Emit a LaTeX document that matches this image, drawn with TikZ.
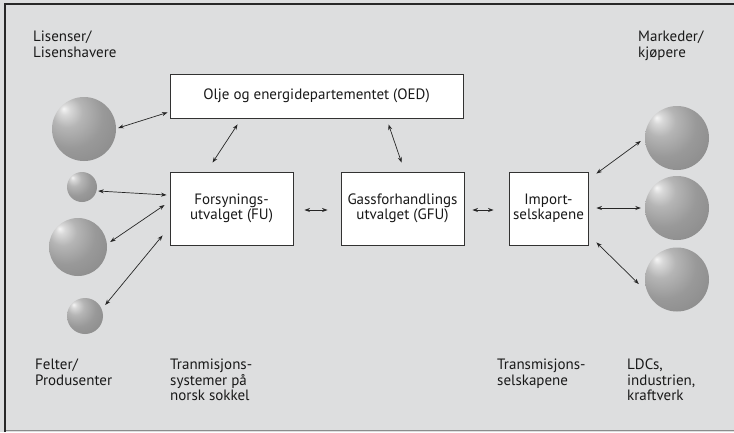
\documentclass[tikz,border=0pt]{standalone}
\usepackage{fontspec}
\setmainfont{PT Sans}
\usetikzlibrary{arrows.meta,calc}
\definecolor{bgc}{RGB}{221,222,223}
\definecolor{framec}{RGB}{40,40,40}
\definecolor{boxc}{RGB}{50,50,50}
\pgfdeclareradialshading{sph}{\pgfpoint{-16bp}{16bp}}{color(0bp)=(gray!8); color(4bp)=(gray!30); color(12bp)=(gray!58); color(25bp)=(gray!80); color(45bp)=(gray!95); color(70bp)=(gray!85!black)}
\begin{document}
\begin{tikzpicture}[x=1pt,y=-1pt,
  every node/.style={font=\fontsize{15}{15.4}\selectfont, text=black!90},
  box/.style={draw=boxc, line width=0.9pt, fill=white, inner sep=0pt, align=center},
  ball/.style={circle, inner sep=0pt, shading=sph, minimum size=#1},
  lbl/.style={anchor=north west, align=left, inner sep=0pt},
  conn/.style={line width=0.7pt, draw=black!85, {Stealth[length=5.5pt,width=4pt]}-{Stealth[length=5.5pt,width=4pt]}}]
\useasboundingbox (0,0) rectangle (734,432);
\fill[bgc] (0,0) rectangle (734,432);
\draw[black!45, line width=0.8pt] (4,430.5) -- (734,430.5);
\draw[framec, line width=2.4pt] (5,432) -- (5,4) -- (734,4);

% boxes
\node[box, minimum width=293pt, minimum height=44pt] (oed) at (316.5,96) {Olje og energidepartementet (OED)};
\node[box, minimum width=123pt, minimum height=73pt] (fu) at (231.5,208.5) {Forsynings-\\utvalget (FU)};
\node[box, minimum width=123pt, minimum height=73pt] (gfu) at (402.5,208.5) {Gassforhandlings\\utvalget (GFU)};
\node[box, minimum width=79pt, minimum height=73pt] (imp) at (548.5,208.5) {Import-\\selskapene};

% spheres
\node[ball=64pt] (s1) at (84,129) {};
\node[ball=30pt] (s2) at (82,187) {};
\node[ball=58pt] (s3) at (78,247) {};
\node[ball=36pt] (s4) at (85,316) {};
\node[ball=64pt] (r1) at (677,138) {};
\node[ball=64pt] (r2) at (677,208) {};
\node[ball=64pt] (r3) at (677,279.5) {};

% labels
\node[lbl] (l1) at (33,31) {Lisenser/\\Lisenshavere};
\node[lbl] (l2) at (638,31) {Markeder/\\kjøpere};
\node[lbl] (l3) at (35,359) {Felter/\\Produsenter};
\node[lbl] (l4) at (170,359) {Tranmisjons-\\systemer på\\norsk sokkel};
\node[lbl] (l5) at (497,359) {Transmisjons-\\selskapene};
\node[lbl] (l6) at (627,359) {LDCs,\\industrien,\\kraftverk};

% connectors
\draw[conn] ($(s1.east)+(2,-1)$) -- ($(oed.south west)+(-2,-6)$);
\draw[conn] ($(oed.south west)+(68,6)$) -- ($(fu.north west)+(43,-9)$);
\draw[conn] ($(oed.south west)+(219,6)$) -- ($(gfu.north west)+(61,-9)$);
\draw[conn] ($(s2.east)+(1,4)$) -- ($(fu.west)+(-3,-13.5)$);
\draw[conn] ($(s3.east)+(3,-5)$) -- ($(fu.west)+(-5,-3.5)$);
\draw[conn] ($(s4.east)+(2,-11)$) -- ($(fu.south west)+(-7,-10)$);
\draw[conn] ($(fu.east)+(11,1.5)$) -- ($(gfu.west)+(-13,1.5)$);
\draw[conn] ($(gfu.east)+(8,1.5)$) -- ($(imp.west)+(-15,1.5)$);
\draw[conn] ($(imp.north east)+(8,2)$) -- ($(r1.west)+(-4,3)$);
\draw[conn] ($(imp.east)+(8,-0.5)$) -- ($(r2.west)+(-4,0)$);
\draw[conn] ($(imp.south east)+(8,-3)$) -- ($(r3.west)+(-6,4.5)$);
\end{tikzpicture}
\end{document}
